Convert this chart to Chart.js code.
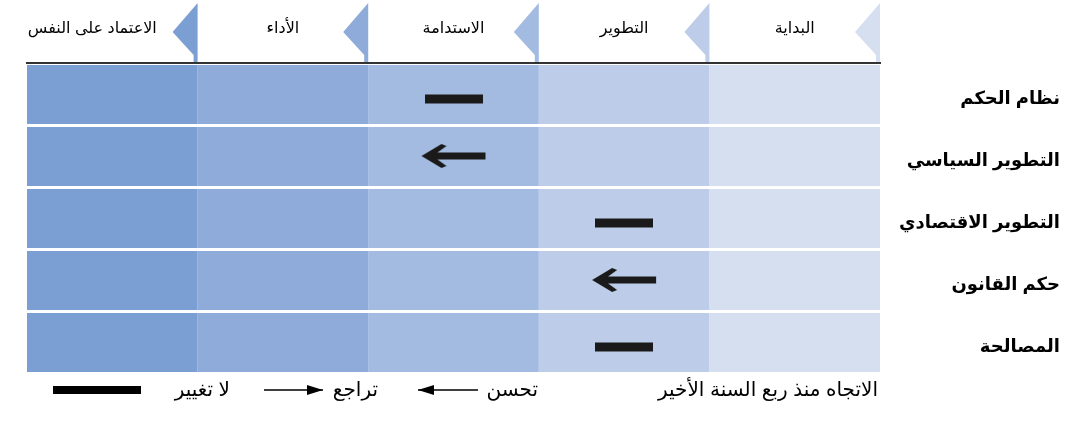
<!DOCTYPE html>
<html lang="ar">
<head>
<meta charset="utf-8">
<script src="https://cdn.jsdelivr.net/npm/chart.js@4.4.1/dist/chart.umd.min.js"></script>
<style>
  html, body { margin: 0; padding: 0; background: #fff; }
  #wrap { width: 1073px; height: 421px; position: relative; }
</style>
</head>
<body>
<div id="wrap"><canvas id="stagesChart" width="1073" height="421"></canvas></div>
<script>
// المراحل من اليمين إلى اليسار
const stages = ["البداية", "التطوير", "الاستدامة", "الأداء", "الاعتماد على النفس"]
const sectors = ["نظام الحكم", "التطوير السياسي", "التطوير الاقتصادي", "حكم القانون", "المصالحة"]
// المرحلة الحالية والاتجاه لكل قطاع
const currentStage = ["الاستدامة", "الاستدامة", "التطوير", "التطوير", "التطوير"]
const trend = ["none", "improve", "none", "improve", "none"]
// مفتاح الرسم
const legendTitle = "الاتجاه منذ ربع السنة الأخير"
const legendLabels = ["تحسن", "تراجع", "لا تغيير"]

const stageColors = ["#d6dff0", "#bdcce8", "#a4bbe1", "#8eabd9", "#7b9fd3"]
const FONT = "'Liberation Sans', Arial, 'DejaVu Sans', sans-serif"

// أشكال العلامات
function makeDash() {
  const c = document.createElement("canvas")
  c.width = 58; c.height = 30
  const g = c.getContext("2d")
  g.fillStyle = "#1a1a1a"
  g.fillRect(0, 15.5, 58, 9)
  return c
}
function makeArrow() {
  const c = document.createElement("canvas")
  c.width = 66; c.height = 28
  const g = c.getContext("2d")
  g.fillStyle = "#1a1a1a"
  g.beginPath()
  g.moveTo(1, 14)
  g.lineTo(21, 2)
  g.lineTo(26, 4)
  g.lineTo(17, 10.5)
  g.lineTo(65, 10.5)
  g.lineTo(65, 17.5)
  g.lineTo(17, 17.5)
  g.lineTo(26, 24)
  g.lineTo(21, 26)
  g.closePath()
  g.fill()
  return c
}
const dashImg = makeDash()
const arrowImg = makeArrow()

function columnEdges(x, i) {
  const c = x.getPixelForValue(i)
  const w = x.width / stages.length
  return { left: c - w / 2, right: c + w / 2 }
}

const backdrop = {
  id: "backdrop",
  beforeDraw(chart) {
    const { ctx, chartArea: a, scales: { x } } = chart
    ctx.save()
    stages.forEach((s, i) => {
      const e = columnEdges(x, i)
      ctx.fillStyle = stageColors[i]
      ctx.fillRect(e.left, a.top, e.right - e.left, a.bottom - a.top)
      // رأس المرحلة المثلث
      const b = e.right
      ctx.beginPath()
      ctx.moveTo(b, 3)
      ctx.lineTo(b - 25, 32)
      ctx.lineTo(b - 4, 55)
      ctx.lineTo(b - 4, a.top)
      ctx.lineTo(b, a.top)
      ctx.closePath()
      ctx.fill()
    })
    ctx.restore()
  }
}

function arrowLine(ctx, x1, x2, y, headAtLeft) {
  ctx.beginPath()
  ctx.moveTo(x1, y); ctx.lineTo(x2, y)
  ctx.stroke()
  ctx.beginPath()
  if (headAtLeft) {
    ctx.moveTo(x1, y); ctx.lineTo(x1 + 16, y - 5); ctx.lineTo(x1 + 16, y + 5)
  } else {
    ctx.moveTo(x2, y); ctx.lineTo(x2 - 16, y - 5); ctx.lineTo(x2 - 16, y + 5)
  }
  ctx.closePath()
  ctx.fill()
}

const trendKey = {
  id: "trendKey",
  afterDraw(chart) {
    const ctx = chart.ctx
    const y = 390
    ctx.save()
    ctx.fillStyle = "#000"
    ctx.strokeStyle = "#000"
    ctx.lineWidth = 1.5
    ctx.font = "20px " + FONT
    ctx.textAlign = "right"
    ctx.textBaseline = "middle"
    ctx.fillText(legendTitle, 878, y)
    ctx.fillText(legendLabels[0], 538, y)
    arrowLine(ctx, 418, 478, y, true)
    ctx.fillText(legendLabels[1], 378, y)
    arrowLine(ctx, 264, 323, y, false)
    ctx.fillText(legendLabels[2], 230, y)
    ctx.fillRect(53, 386, 88, 8)
    ctx.restore()
  }
}

new Chart(document.getElementById("stagesChart"), {
  type: "scatter",
  data: {
    datasets: [{
      data: sectors.map((s, i) => ({ x: currentStage[i], y: s })),
      pointStyle: (c) => trend[c.dataIndex] === "improve" ? arrowImg : dashImg,
      pointRadius: 5,
      pointHoverRadius: 5
    }]
  },
  options: {
    responsive: false,
    animation: false,
    events: [],
    layout: { padding: { left: 27, right: 13, top: 0, bottom: 48 } },
    plugins: { legend: { display: false }, tooltip: { enabled: false } },
    scales: {
      x: {
        type: "category",
        labels: stages,
        position: "top",
        reverse: true,
        offset: true,
        afterFit: (s) => { s.height = 63 },
        grid: { display: false, drawTicks: false },
        border: { display: true, color: "#333", width: 2 },
        ticks: {
          color: "#000",
          padding: 25,
          maxRotation: 0,
          minRotation: 0,
          autoSkip: false,
          font: { family: FONT, size: 16 },
          // آخر عنوان يبتعد عن المثلث
          callback: (v, i) => i === stages.length - 1 ? stages[i] + "\u00A0".repeat(9) : stages[i]
        }
      },
      y: {
        type: "category",
        labels: sectors,
        position: "right",
        offset: true,
        afterFit: (s) => { s.width = 180 },
        grid: { color: "#ffffff", lineWidth: 3, drawTicks: false, offset: true },
        border: { display: false },
        ticks: { color: "#000", crossAlign: "far", padding: 13, labelOffset: 5, font: { family: FONT, size: 18, weight: "bold" } }
      }
    }
  },
  plugins: [backdrop, trendKey]
})
</script>
</body>
</html>
